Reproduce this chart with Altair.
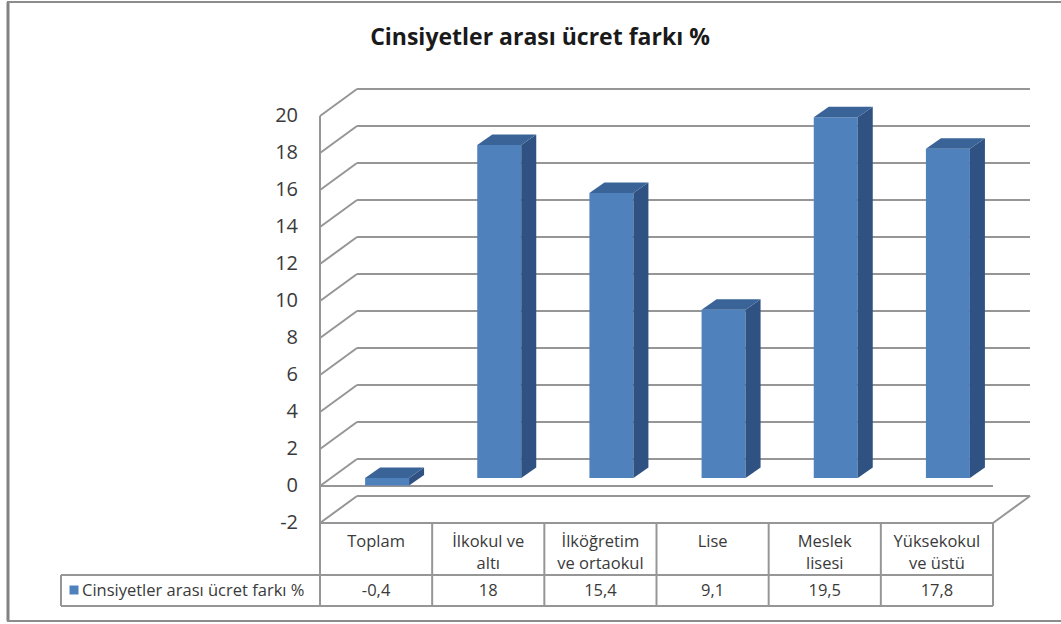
import altair as alt
import pandas as pd

# ---- data -------------------------------------------------------------
cat_line1 = ["Toplam", "İlkokul ve", "İlköğretim", "Lise", "Meslek", "Yüksekokul"]
cat_line2 = ["", "altı", "ve ortaokul", "", "lisesi", "ve üstü"]
values = [-0.4, 18, 15.4, 9.1, 19.5, 17.8]
y_ticks = list(range(-2, 21, 2))
series_name = "Cinsiyetler arası ücret farkı %"
chart_title = "Cinsiyetler arası ücret farkı %"

# ---- geometry of the oblique 3-D frame (pixels) -------------------------
W, H = 673, 407                 # front plane of the plot
Y_MIN, Y_MAX = -2, 20
N = len(values)
PX_X = W / N                    # px per category
PX_Y = H / (Y_MAX - Y_MIN)      # px per value unit
WALL_DX, WALL_DY = 37, 27       # depth of the walls
BAR_DX, BAR_DY = 11, 8          # bar front plane inside the box
BAR_HALF = 22                   # half width of bar front
SIDE_DX, SIDE_DY = 15, 10.5     # bar depth
TOTAL_W, TOTAL_H = 1061, 624

ux = lambda px: px / PX_X
uy = lambda px: px / PX_Y

FRONT = "#4F81BD"
SIDE = "#2F5283"
TOP = "#3A6497"
GRID = "#969696"
LW = 2
TEXT = "#3A3A3A"
FONT = "Open Sans"
TABLE_FS = 16.5

# bars
bars = pd.DataFrame({"idx": range(N), "value": values})
bars["xl"] = bars.idx + 0.5 + ux(BAR_DX - BAR_HALF)
bars["xr"] = bars.idx + 0.5 + ux(BAR_DX + BAR_HALF)
bars["ylo"] = bars.value.clip(upper=0) + uy(BAR_DY)
bars["yhi"] = bars.value.clip(lower=0) + uy(BAR_DY)

side_rows, top_rows = [], []
for _, b in bars.iterrows():
    for k in (0, 1):
        side_rows.append({"idx": b.idx, "x": b.xr + k * ux(SIDE_DX),
                          "top": b.yhi + k * uy(SIDE_DY), "bot": b.ylo + k * uy(SIDE_DY)})
        top_rows.append({"idx": b.idx, "y": b.yhi + k * uy(SIDE_DY),
                         "xa": b.xl + k * ux(SIDE_DX), "xb": b.xr + k * ux(SIDE_DX)})
side = pd.DataFrame(side_rows)
top = pd.DataFrame(top_rows)

# walls
grid = pd.DataFrame({"g": y_ticks})
grid["gb"] = grid.g + uy(WALL_DY)
grid["x0"] = 0.0
grid["x1"] = ux(WALL_DX)
grid["x2"] = N + ux(WALL_DX)

edges = pd.DataFrame([
    {"x": 0.0, "x2": float(N), "y": 0.0, "y2": 0.0},                         # category axis
    {"x": 0.0, "x2": float(N), "y": float(Y_MIN), "y2": float(Y_MIN)},       # floor front
    {"x": float(N), "x2": N + ux(WALL_DX), "y": float(Y_MIN), "y2": Y_MIN + uy(WALL_DY)},
    {"x": 0.0, "x2": 0.0, "y": float(Y_MIN), "y2": float(Y_MAX)},            # front wall edge
])

cats = pd.DataFrame({"idx": range(N), "l1": cat_line1, "l2": cat_line2, "value": values})
cats["c"] = cats.idx + 0.5
bounds = pd.DataFrame({"b": list(range(N + 1))})

xs = alt.Scale(domain=[0, N], nice=False, zero=False)
ys = alt.Scale(domain=[Y_MIN, Y_MAX], nice=False, zero=False)

# ---- layers -----------------------------------------------------------
tick_labels = alt.Chart(grid).mark_text(
    font=FONT, fontSize=20, color=TEXT, align="right", baseline="middle"
).encode(
    x=alt.value(-22),
    y=alt.Y("g:Q", scale=ys, axis=None),
    text="g:N",
)
back_grid = alt.Chart(grid).mark_rule(color=GRID, strokeWidth=LW).encode(
    x=alt.X("x1:Q", scale=xs, axis=None), x2="x2:Q",
    y=alt.Y("gb:Q", scale=ys, axis=None),
)
left_wall = alt.Chart(grid).mark_rule(color=GRID, strokeWidth=LW).encode(
    x=alt.X("x0:Q", scale=xs, axis=None), x2="x1:Q",
    y=alt.Y("g:Q", scale=ys, axis=None), y2="gb:Q",
)
edge_lines = alt.Chart(edges).mark_rule(color=GRID, strokeWidth=LW).encode(
    x=alt.X("x:Q", scale=xs, axis=None), x2="x2:Q",
    y=alt.Y("y:Q", scale=ys, axis=None), y2="y2:Q",
)

front = alt.Chart(bars).mark_bar(color=FRONT).encode(
    x=alt.X("xl:Q", scale=xs, axis=None), x2="xr:Q",
    y=alt.Y("ylo:Q", scale=ys, axis=None), y2="yhi:Q",
)
side_face = alt.Chart(side).mark_area(color=SIDE).encode(
    x=alt.X("x:Q", scale=xs, axis=None),
    y=alt.Y("top:Q", scale=ys, axis=None), y2="bot:Q",
    detail="idx:N",
)
top_face = alt.Chart(top).mark_area(color=TOP, orient="horizontal").encode(
    y=alt.Y("y:Q", scale=ys, axis=None),
    x=alt.X("xa:Q", scale=xs, axis=None), x2="xb:Q",
    detail="idx:N",
)

# ---- data table under the plot ----------------------------------------
T_TOP, T_MID, T_BOT = H, H + 52, H + 83
LEG_LEFT = -259
table_v = alt.Chart(bounds).mark_rule(color=GRID, strokeWidth=LW).encode(
    x=alt.X("b:Q", scale=xs, axis=None), y=alt.value(T_TOP), y2=alt.value(T_BOT),
)
table_h = alt.Chart(pd.DataFrame({"yy": [T_MID, T_BOT]})).mark_rule(
    color=GRID, strokeWidth=LW).encode(
    x=alt.value(LEG_LEFT), x2=alt.value(W), y=alt.Y("yy:Q", scale=None),
)
leg_edge = alt.Chart(pd.DataFrame({"k": [0]})).mark_rule(color=GRID, strokeWidth=LW).encode(
    x=alt.value(LEG_LEFT), y=alt.value(T_MID), y2=alt.value(T_BOT),
)
txt = dict(font=FONT, fontSize=TABLE_FS, color=TEXT, align="center", baseline="middle")
row1 = alt.Chart(cats).mark_text(**txt).encode(
    x=alt.X("c:Q", scale=xs, axis=None), y=alt.value(T_TOP + 19), text="l1:N")
row2 = alt.Chart(cats).mark_text(**txt).encode(
    x=alt.X("c:Q", scale=xs, axis=None), y=alt.value(T_TOP + 41), text="l2:N")
row_vals = alt.Chart(cats).transform_calculate(
    label="replace(toString(datum.value), '.', ',')"
).mark_text(**txt).encode(
    x=alt.X("c:Q", scale=xs, axis=None), y=alt.value(T_MID + 16), text="label:N")
leg_key = alt.Chart(pd.DataFrame({"s": [series_name]})).mark_square(
    color=FRONT, size=81, opacity=1).encode(x=alt.value(LEG_LEFT + 13), y=alt.value(T_MID + 15))
leg_text = alt.Chart(pd.DataFrame({"s": [series_name]})).mark_text(
    font=FONT, fontSize=TABLE_FS, color=TEXT, align="left", baseline="middle").encode(
    x=alt.value(LEG_LEFT + 21), y=alt.value(T_MID + 16), text="s:N")

title = alt.Chart(pd.DataFrame({"t": [chart_title]})).mark_text(
    font=FONT, fontSize=23, fontWeight="bold", color="#1a1a1a",
    align="center", baseline="middle").encode(
    x=alt.value(220), y=alt.value(-78), text="t:N")

# chart frame (left, top and bottom edges)
FRAME_BOTTOM = TOTAL_H - 116 - 3
frame_v = alt.Chart(pd.DataFrame({"k": [0]})).mark_rule(color="#828282", strokeWidth=3).encode(
    x=alt.value(-312), y=alt.value(-114), y2=alt.value(FRAME_BOTTOM))
frame_h = alt.Chart(pd.DataFrame({"yy": [-114, FRAME_BOTTOM]})).mark_rule(
    color="#8c8c8c", strokeWidth=2).encode(
    x=alt.value(-313), x2=alt.value(TOTAL_W - 320), y=alt.Y("yy:Q", scale=None))

chart = alt.layer(
    back_grid, left_wall, edge_lines,
    table_v, table_h, leg_edge,
    front, side_face, top_face, tick_labels,
    row1, row2, row_vals, leg_key, leg_text, title, frame_v, frame_h,
).properties(
    width=W, height=H,
    autosize=alt.AutoSizeParams(type="none"),
    padding={"left": 320, "top": 116, "right": TOTAL_W - 320 - W,
             "bottom": TOTAL_H - 116 - H},
    background="white",
).configure_view(stroke=None)

chart.save("out.html", embed_options={"renderer": "svg", "actions": False})
